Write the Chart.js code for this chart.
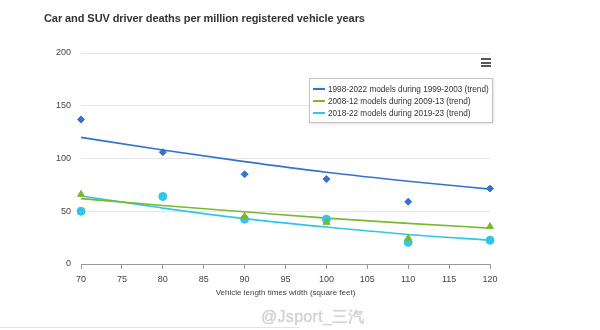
<!DOCTYPE html>
<html>
<head>
<meta charset="utf-8">
<script src="https://cdn.jsdelivr.net/npm/chart.js@4"></script>
<style>
  body { margin: 0; background: #fff; font-family: "Liberation Sans", Arial, sans-serif; }
  #wrap { position: relative; width: 600px; height: 330px; overflow: hidden; }
  #chart { position: absolute; left: 0; top: 0; }
  #title { position: absolute; left: 44px; top: 12px; font-size: 11px; font-weight: bold; color: #333; white-space: nowrap; letter-spacing: -0.08px; }
  #menu { position: absolute; left: 481px; top: 58px; width: 10px; }
  #menu div { height: 2px; background: #555; margin-bottom: 1.5px; }
  #legend { position: absolute; left: 309px; top: 78px; width: 184px; height: 45px; border: 1px solid #c4c4c4;
            box-shadow: 1px 1px 2px rgba(0,0,0,0.12); background: #fff; padding-top: 4px; box-sizing: border-box; }
  .item { height: 12px; display: flex; align-items: center; font-size: 8.2px; color: #333; white-space: nowrap; }
  .item span.sw { display: inline-block; width: 12px; height: 1.5px; margin: 0 3px 0 3px; }
  #mark { position: absolute; left: 261px; top: 307px; font-size: 16px; color: #d6d6d6; letter-spacing: 0.3px;
          text-shadow: 0 0 1px #bbb; }
  #rule { position: absolute; left: 0; top: 327px; width: 300px; height: 1px; background: #e4e4e4; }
</style>
</head>
<body>
<div id="wrap">
  <canvas id="chart" width="600" height="330"></canvas>
  <div id="title">Car and SUV driver deaths per million registered vehicle years</div>
  <div id="menu"><div></div><div></div><div></div></div>
  <div id="legend"></div>
  <div id="mark">@Jsport_三汽</div>
  <div id="rule"></div>
</div>
<script>
// vehicle footprint (sq ft)
const sizes = [70, 80, 90, 100, 110, 120];

const labels = [
  '1998-2022 models during 1999-2003 (trend)',
  '2008-12 models during 2009-13 (trend)',
  '2018-22 models during 2019-23 (trend)'
];
const colors = ['#3572cf', '#7ab82e', '#2ec6ea'];

// observed death rates
const deaths1999 = [137, 106, 85, 80.5, 59, 71.5];
const deaths2009 = [66, null, 45, 39.5, 24.5, 35.5];
const deaths2019 = [50, 64, 42.5, 42.5, 20.5, 22.5];

// fitted trend values
const trend1999 = [120, 108, 97, 87, 78.5, 71];
const trend2009 = [62, 55.5, 49.5, 43.5, 38.5, 34];
const trend2019 = [64.5, 53, 43, 35, 28, 22.5];

const xy = arr => sizes.map((x, i) => ({ x: x, y: arr[i] })).filter(p => p.y !== null);

function trendSet(i, arr) {
  return {
    type: 'line',
    label: labels[i],
    data: xy(arr),
    borderColor: colors[i],
    borderWidth: 1.6,
    pointRadius: 0,
    tension: 0.4,
    cubicInterpolationMode: 'monotone',
    clip: false,
    order: 2
  };
}

function pointSet(i, arr, style, r) {
  return {
    type: 'scatter',
    label: labels[i],
    data: xy(arr),
    pointStyle: style,
    pointRadius: r,
    backgroundColor: colors[i],
    borderColor: colors[i],
    borderWidth: 1,
    clip: false,
    order: 1
  };
}

new Chart(document.getElementById('chart'), {
  type: 'scatter',
  data: {
    datasets: [
      trendSet(0, trend1999),
      trendSet(1, trend2009),
      trendSet(2, trend2019),
      pointSet(0, deaths1999, 'rectRot', 3.5),
      pointSet(1, deaths2009, 'triangle', 4),
      pointSet(2, deaths2019, 'circle', 4)
    ]
  },
  options: {
    responsive: false,
    animation: false,
    layout: { padding: { left: 0, right: 110, top: 53, bottom: 30 } },
    scales: {
      x: {
        type: 'linear',
        min: 70,
        max: 120,
        afterFit: s => { s.height = 36; },
        ticks: { stepSize: 5, color: '#444', padding: 5, font: { family: 'Liberation Sans', size: 9 } },
        grid: { drawOnChartArea: false, tickLength: 5, color: '#999' },
        border: { color: '#999' },
        title: {
          display: true,
          text: 'Vehicle length times width (square feet)',
          color: '#444',
          font: { family: 'Liberation Sans', size: 8 },
          padding: { top: 0, bottom: 2 }
        }
      },
      y: {
        min: 0,
        max: 200,
        afterFit: s => { s.width = 81; },
        ticks: { stepSize: 50, color: '#444', padding: 10, font: { family: 'Liberation Sans', size: 9 } },
        grid: { color: '#e6e6e6', drawTicks: false },
        border: { display: false }
      }
    },
    plugins: {
      legend: { display: false },
      tooltip: { enabled: false }
    }
  }
});

// legend box lists the trend lines only
const box = document.getElementById('legend');
labels.forEach((t, i) => {
  const row = document.createElement('div');
  row.className = 'item';
  row.innerHTML = `<span class="sw" style="background:${colors[i]}"></span>${t}`;
  box.appendChild(row);
});
</script>
</body>
</html>
